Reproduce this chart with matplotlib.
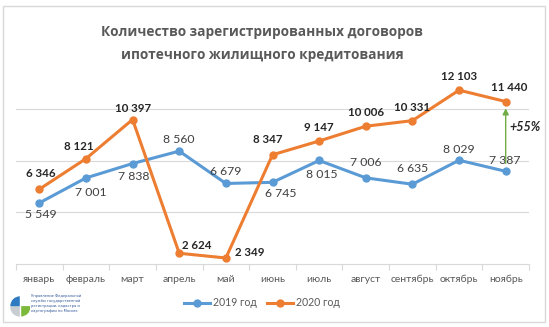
import numpy as np
import matplotlib.pyplot as plt
from matplotlib.patches import Rectangle, Wedge

months = ['январь', 'февраль', 'март', 'апрель', 'май', 'июнь', 'июль',
          'август', 'сентябрь', 'октябрь', 'ноябрь']
y2019 = [5549, 7001, 7838, 8560, 6679, 6745, 8015, 7006, 6635, 8029, 7387]
y2020 = [6346, 8121, 10397, 2624, 2349, 8347, 9147, 10006, 10331, 12103, 11440]
# label offsets (pixels, dx, dy up positive)
off2019 = [(1, -12), (5, -15), (1, -13), (0, 12), (0, 12), (8, -11), (3, -14),
           (0, 15), (0, 16), (0, 11), (-1, 11)]
off2020 = [(1, 16), (-7, 12), (0, 11), (18, 8), (24, 5), (-5, 15), (0, 14),
           (0, 14), (0, 13), (0, 14), (4, 14)]

def fmt(v):
    return '{:,}'.format(v).replace(',', ' ')

W, H = 549, 327
fig = plt.figure(figsize=(W / 100, H / 100), dpi=100)
fig.patch.set_facecolor('white')

# outer frame
fig.patches.append(Rectangle((3 / W, 1 - 322 / H), 542 / W, 316 / H,
                             transform=fig.transFigure, fill=False,
                             edgecolor='#D9D9D9', linewidth=1.0))

fig.text(262 / W, 1 - 32 / H, 'Количество зарегистрированных договоров',
         ha='center', va='center', fontsize=9.8, fontweight='bold',
         color='#595959', family='Open Sans')
fig.text(262 / W, 1 - 55 / H, 'ипотечного жилищного кредитования',
         ha='center', va='center', fontsize=9.8, fontweight='bold',
         color='#595959', family='Open Sans')

ax = fig.add_axes([16 / W, 1 - 264 / H, 513 / W, (264 - 57.5) / H])
x = np.arange(len(months))
ax.set_xlim(-0.5, len(months) - 0.5)
ax.set_ylim(2000, 14000)
for g in [5000, 8000, 11000]:
    ax.axhline(g, color='#D9D9D9', linewidth=0.8, zorder=0)
for s in ['top', 'right', 'left']:
    ax.spines[s].set_visible(False)
ax.spines['bottom'].set_color('#D9D9D9')
ax.spines['bottom'].set_linewidth(0.8)
ax.set_yticks([])
ax.set_xticks(np.arange(-0.5, len(months)), minor=False)
ax.set_xticklabels([])
ax.tick_params(axis='x', length=4, color='#D9D9D9', width=0.8)
ax.set_xticks(x, minor=True)
ax.set_xticklabels(months, minor=True, fontsize=7.5, color='#595959', family='Lato')
ax.tick_params(axis='x', which='minor', length=0, pad=8)

blue = '#5B9BD5'
orange = '#ED7D31'
ax.plot(x, y2019, color=blue, lw=2.2, marker='o', ms=5, label='2019 год', zorder=3)
ax.plot(x, y2020, color=orange, lw=2.2, marker='o', ms=5, label='2020 год', zorder=3)

for i in range(len(months)):
    dx, dy = off2019[i]
    ax.annotate(fmt(y2019[i]), (x[i], y2019[i]), xytext=(dx * 0.72, dy * 0.72),
                textcoords='offset points', ha='center', va='center',
                fontsize=8.8, color='#404040', family='Lato')
    dx, dy = off2020[i]
    ax.annotate(fmt(y2020[i]), (x[i], y2020[i]), xytext=(dx * 0.72, dy * 0.72),
                textcoords='offset points', ha='center', va='center',
                fontsize=8.3, fontweight='bold', color='#262626', family='Lato')

# growth arrow
ax.annotate('', xy=(x[-1], 11050), xytext=(x[-1], 7850),
            arrowprops=dict(arrowstyle='-|>', color='#70AD47', lw=1.0,
                            mutation_scale=9, shrinkA=0, shrinkB=0))
ax.text(x[-1] + 0.07, 9950, '+55%', fontsize=9, fontweight='bold', style='italic',
        color='#262626', family='Lato', ha='left', va='center')

leg = fig.legend(loc='center', bbox_to_anchor=(262 / W, 1 - 303 / H), ncol=2,
                 frameon=False, handlelength=2.4, columnspacing=1.0,
                 handletextpad=0.3, prop={'family': 'Lato', 'size': 7.6})
for t in leg.get_texts():
    t.set_color('#595959')

# logo
lax = fig.add_axes([10 / W, 1 - 320 / H, 20 / W, 28 / H])
lax.set_xlim(-1, 1)
lax.set_ylim(-1.4, 1.4)
lax.axis('off')
lax.add_patch(Wedge((0, 0), 0.9, 90, 180, color='#2F7BC1'))
lax.add_patch(Wedge((0.08, -0.08), 0.9, 270, 360, color='#7DBA3C'))
lax.add_patch(Wedge((0, -0.1), 0.9, 180, 270, color='#C8CDD2'))
lax.add_patch(Rectangle((-0.02, -1.2), 0.06, 2.3, color='white'))
logo_lines = ['Управление Федеральной', 'службы государственной',
              'регистрации, кадастра и', 'картографии по Москве']
for k, s in enumerate(logo_lines):
    fig.text(31 / W, 1 - (296 + k * 5) / H, s, fontsize=2.6, color='#2F5597',
             ha='left', va='center')

fig.savefig('out.png', dpi=100)
